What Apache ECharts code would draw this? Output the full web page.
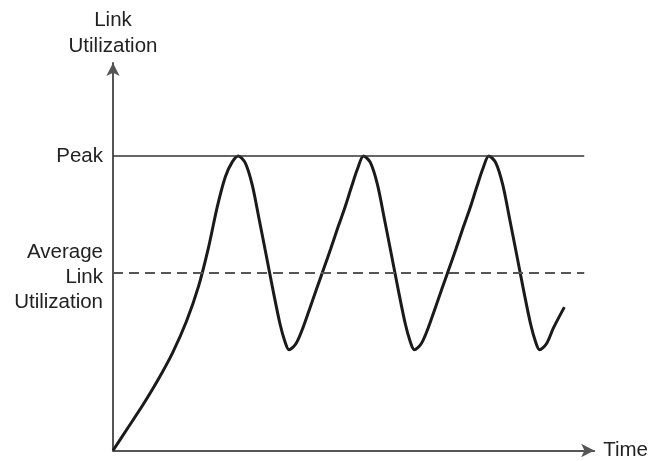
<!DOCTYPE html>
<html>
<head>
<meta charset="utf-8">
<script src="https://cdn.jsdelivr.net/npm/echarts@6/dist/echarts.min.js"></script>
<style>html,body{margin:0;padding:0;background:#fff}#c{width:651px;height:461px}</style>
</head>
<body>
<div id="c"></div>
<script>
// Time (arbitrary units, axis 0..100)
var time = [0, 3.10, 6.20, 9.30, 12.40, 15.29, 17.77, 19.83, 21.69, 23.35, 24.79, 26.03,
  27.48, 28.92, 30.37, 31.82, 33.26, 34.71, 35.74, 36.57, 38.01, 39.46, 40.91, 42.35, 43.80, 45.24, 46.69, 48.14, 49.58, 50.82, 52.06,
  53.52, 54.96, 56.41, 57.86, 59.30, 60.75, 61.78, 62.61, 64.05, 65.50, 66.95, 68.39, 69.84, 71.28, 72.73, 74.18, 75.62, 76.86, 78.10,
  79.55, 80.99, 82.44, 83.89, 85.33, 86.78, 87.81, 88.64, 90.08, 91.53, 93.80];
// Link utilization (arbitrary units, axis 0..100)
var utilization = [0, 5.87, 11.73, 18.11, 25.26, 33.42, 42.35, 52.30, 63.01, 70.66, 74.49, 76.02,
  74.23, 68.62, 59.69, 50.51, 41.33, 32.65, 28.06, 26.02, 27.55, 31.63, 36.73, 41.84, 46.94, 52.04, 57.40, 62.50, 68.11, 72.70, 76.02,
  74.23, 68.62, 59.69, 50.51, 41.33, 32.65, 28.06, 26.02, 27.55, 31.63, 36.73, 41.84, 46.94, 52.04, 57.40, 62.50, 68.11, 72.70, 76.02,
  74.23, 68.62, 59.69, 50.51, 41.33, 32.65, 28.06, 26.02, 27.55, 31.63, 37.0];
var peakValue = 76.02;
var averageValue = 45.92;
var refLineEnd = 97.93;
var labels = { peak: 'Peak', average: 'Average\nLink\nUtilization', yName: 'Link\nUtilization', xName: 'Time' };

var pts = time.map(function (t, i) { return [t, utilization[i]]; });
var font = 'Liberation Sans, Arial, Helvetica, sans-serif';
var fs = 20.5;
var chart = echarts.init(document.getElementById('c'), null, { renderer: 'canvas' });
var axisCommon = {
  type: 'value', min: 0, max: 100,
  axisLine: { show: true, lineStyle: { color: '#555', width: 2 }, symbol: ['none', 'arrow'], symbolSize: [10, 13] },
  axisTick: { show: false }, axisLabel: { show: false }, splitLine: { show: false },
  nameTextStyle: { fontFamily: font, fontSize: fs, color: '#222' }
};
chart.setOption({
  animation: false,
  grid: { left: 113, right: 54, top: 63, bottom: 6 },
  xAxis: Object.assign({}, axisCommon, { name: labels.xName, nameLocation: 'end', nameGap: 9 }),
  yAxis: Object.assign({}, axisCommon, { name: labels.yName, nameLocation: 'end', nameGap: 4,
    nameTextStyle: { fontFamily: font, fontSize: fs, color: '#222', lineHeight: 26, align: 'center' } }),
  series: [{
    type: 'line', data: pts, smooth: 0.3, showSymbol: false, clip: false,
    lineStyle: { color: '#1a1a1a', width: 3 },
    markLine: {
      silent: true, symbol: ['none', 'none'],
      data: [
        [{ coord: [0, peakValue], lineStyle: { color: '#333', width: 1.5, type: 'solid' },
           label: { formatter: labels.peak } }, { coord: [refLineEnd, peakValue] }],
        [{ coord: [0, averageValue], lineStyle: { color: '#555', width: 2, type: [10, 6] },
           label: { formatter: labels.average, offset: [0, 5] } }, { coord: [refLineEnd, averageValue] }]
      ],
      label: { show: true, position: 'start', distance: 10, fontFamily: font, fontSize: fs, color: '#222', lineHeight: 25, align: 'right' }
    }
  }]
});
</script>
</body>
</html>
